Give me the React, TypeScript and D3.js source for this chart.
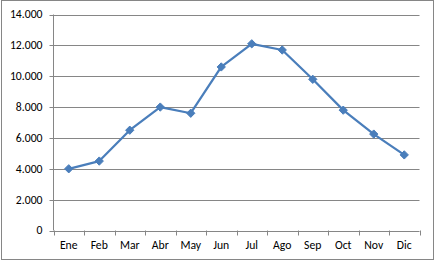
import React from "react";
import * as d3 from "d3";

const months = ["Ene", "Feb", "Mar", "Abr", "May", "Jun", "Jul", "Ago", "Sep", "Oct", "Nov", "Dic"];
const values = [4000, 4500, 6500, 8000, 7600, 10600, 12100, 11700, 9800, 7800, 6250, 4900];
const yTicks = [0, 2000, 4000, 6000, 8000, 10000, 12000, 14000];

const W = 436;
const H = 262;
const left = 53.5;
const right = 419.5;
const top = 14.5;
const bottom = 230.5;

const fmt = (v: number) => {
  const s = String(v);
  return s.length > 3 ? s.slice(0, s.length - 3) + "." + s.slice(s.length - 3) : s;
};

export default function App() {
  const x = d3.scaleBand<string>().domain(months).range([left, right]).padding(0);
  const y = d3.scaleLinear().domain([0, 14000]).range([bottom, top]);
  const line = d3
    .line<number>()
    .x((_, i) => (x(months[i]) as number) + x.bandwidth() / 2)
    .y((d) => y(d));
  const diamond = d3.symbol().type(d3.symbolDiamond2).size(44)() as string;
  const font = "Carlito, 'Open Sans', 'Liberation Sans', sans-serif";
  const grid = "#868686";
  const boundaries = [...months.map((m) => x(m) as number), right];

  return (
    <svg
      width={W}
      height={H}
      style={{ position: "absolute", left: 0, top: 0, background: "#fff" }}
      fontFamily={font}
    >
      <rect x={1.5} y={0.5} width={432} height={259} fill="#fff" stroke={grid} strokeWidth={1} />
      {yTicks.map((t) => (
        <g key={t}>
          <line x1={left - 4} x2={right} y1={Math.round(y(t)) + 0.5} y2={Math.round(y(t)) + 0.5} stroke={grid} />
          <text x={42.5} y={y(t)} dy="0.33em" textAnchor="end" fontSize={11.7} fill="#000">
            {fmt(t)}
          </text>
        </g>
      ))}
      <line x1={left} x2={left} y1={top} y2={bottom} stroke={grid} />
      {boundaries.map((b, i) => (
        <line key={i} x1={Math.round(b) + 0.5} x2={Math.round(b) + 0.5} y1={bottom} y2={bottom + 5} stroke={grid} />
      ))}
      {months.map((m) => (
        <text key={m} x={(x(m) as number) + x.bandwidth() / 2} y={245} dy="0.35em" textAnchor="middle" fontSize={11.7} fill="#000">
          {m}
        </text>
      ))}
      <path d={line(values) as string} fill="none" stroke="#4A7EBB" strokeWidth={2.25} strokeLinejoin="round" />
      {values.map((v, i) => (
        <path
          key={i}
          d={diamond}
          transform={`translate(${(x(months[i]) as number) + x.bandwidth() / 2},${y(v)})`}
          fill="#4A7EBB"
          stroke="#4A7EBB"
          strokeWidth={1}
        />
      ))}
    </svg>
  );
}
